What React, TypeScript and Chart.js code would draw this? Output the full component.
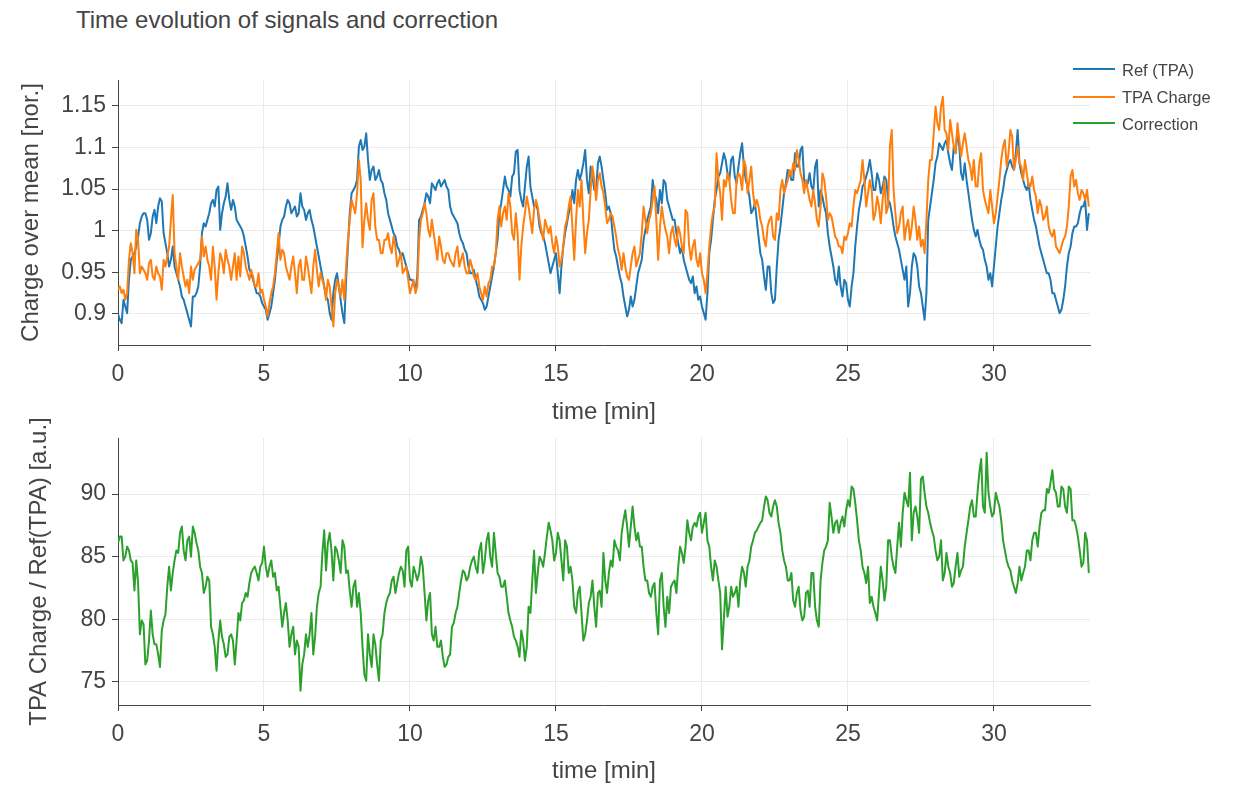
import { useEffect, useRef } from "react";
import { Chart, registerables } from "chart.js";

Chart.register(...registerables);

// sampling grid of the recording (minutes between samples)
const STEP_MIN = 0.0625;
const X_MAX = 33.29;
const X_TICKS = [0, 5, 10, 15, 20, 25, 30];
const TOP_Y_TICKS = [0.9, 0.95, 1, 1.05, 1.1, 1.15];
const BOTTOM_Y_TICKS = [75, 80, 85, 90];

const SERIES_NAMES = ["Ref (TPA)", "TPA Charge", "Correction"];
const SERIES_COLORS = ["#1f77b4", "#ff7f0e", "#2ca02c"];

// Ref (TPA), one row per minute
const REF_TPA = [
  0.900, 0.893, 0.889, 0.917, 0.909, 0.901, 0.941, 0.965, 0.969, 0.973, 0.981, 0.993, 1.009, 1.017, 1.021, 1.021,
  1.013, 0.989, 0.997, 1.017, 1.025, 1.009, 1.029, 1.039, 1.035, 0.997, 0.985, 0.973, 0.957, 0.965, 0.981, 0.957,
  0.949, 0.941, 0.933, 0.921, 0.917, 0.909, 0.901, 0.893, 0.885, 0.921, 0.921, 0.925, 0.933, 0.957, 0.997, 1.009,
  1.005, 1.013, 1.021, 1.033, 1.037, 1.029, 1.049, 1.053, 1.001, 1.021, 1.033, 1.041, 1.057, 1.037, 1.025, 1.037,
  1.029, 1.013, 1.009, 1.005, 1.001, 0.993, 0.981, 0.969, 0.953, 0.949, 0.941, 0.933, 0.925, 0.925, 0.921, 0.913,
  0.909, 0.905, 0.893, 0.901, 0.909, 0.925, 0.941, 0.965, 0.981, 1.005, 1.013, 1.017, 1.029, 1.037, 1.033, 1.021,
  1.025, 1.029, 1.017, 1.021, 1.045, 1.029, 1.025, 1.013, 1.021, 1.025, 1.013, 1.005, 0.993, 0.981, 0.969, 0.957,
  0.945, 0.933, 0.921, 0.917, 0.901, 0.893, 0.925, 0.941, 0.949, 0.933, 0.917, 0.901, 0.889, 0.941, 0.981, 1.021,
  1.045, 1.049, 1.053, 1.061, 1.101, 1.109, 1.097, 1.101, 1.117, 1.085, 1.061, 1.073, 1.077, 1.061, 1.065, 1.073,
  1.061, 1.057, 1.045, 1.037, 1.021, 1.013, 1.005, 0.997, 0.993, 0.981, 0.977, 0.969, 0.973, 0.965, 0.957, 0.949,
  0.941, 0.941, 0.937, 0.929, 0.945, 1.013, 1.017, 1.025, 1.033, 1.045, 1.041, 1.033, 1.057, 1.053, 1.049, 1.057,
  1.061, 1.053, 1.057, 1.061, 1.053, 1.049, 1.029, 1.021, 1.017, 1.013, 1.009, 0.997, 0.989, 0.985, 0.977, 0.973,
  0.957, 0.949, 0.949, 0.953, 0.941, 0.933, 0.921, 0.917, 0.913, 0.905, 0.909, 0.921, 0.933, 0.945, 0.957, 0.973,
  0.989, 1.021, 1.033, 1.049, 1.065, 1.053, 1.049, 1.041, 1.065, 1.069, 1.095, 1.097, 1.049, 1.037, 1.029, 1.053,
  1.077, 1.089, 1.053, 1.041, 1.029, 1.033, 1.025, 1.005, 0.997, 0.993, 0.985, 0.973, 0.961, 0.949, 0.957, 0.965,
  0.973, 0.949, 0.925, 0.957, 0.981, 0.997, 1.009, 1.021, 1.029, 1.049, 1.033, 1.061, 1.073, 1.061, 1.069, 1.081,
  1.097, 1.061, 1.045, 1.077, 1.065, 1.049, 1.049, 1.081, 1.089, 1.077, 1.061, 1.045, 1.025, 1.029, 1.021, 0.997,
  0.977, 0.969, 0.957, 0.945, 0.937, 0.921, 0.909, 0.897, 0.905, 0.921, 0.909, 0.917, 0.933, 0.949, 0.957, 0.965,
  0.989, 1.001, 1.013, 1.021, 1.029, 1.061, 1.045, 1.037, 1.021, 1.049, 1.033, 1.061, 1.057, 1.037, 1.029, 1.021,
  1.013, 1.013, 0.997, 0.985, 0.973, 0.981, 0.965, 0.957, 0.949, 0.941, 0.937, 0.945, 0.925, 0.933, 0.917, 0.921,
  0.909, 0.901, 0.893, 0.925, 0.973, 0.989, 1.013, 1.037, 1.049, 1.065, 1.069, 1.081, 1.093, 1.085, 1.069, 1.061,
  1.085, 1.089, 1.065, 1.057, 1.077, 1.093, 1.105, 1.077, 1.061, 1.053, 1.041, 1.021, 1.025, 1.033, 1.013, 0.993,
  0.973, 0.965, 0.945, 0.929, 0.957, 0.957, 0.925, 0.913, 0.917, 0.957, 0.989, 1.005, 1.025, 1.045, 1.057, 1.073,
  1.069, 1.061, 1.061, 1.093, 1.077, 1.077, 1.097, 1.101, 1.061, 1.053, 1.057, 1.069, 1.053, 1.049, 1.077, 1.085,
  1.029, 1.049, 1.041, 1.029, 1.021, 0.997, 0.981, 0.969, 0.957, 0.941, 0.935, 0.957, 0.933, 0.921, 0.941, 0.937,
  0.917, 0.909, 0.933, 0.949, 0.981, 1.005, 1.025, 1.037, 1.053, 1.057, 1.065, 1.073, 1.085, 1.069, 1.049, 1.049,
  1.069, 1.061, 1.045, 1.053, 1.065, 1.061, 1.037, 1.033, 1.021, 1.005, 0.993, 0.985, 0.977, 0.965, 0.953, 0.941,
  0.957, 0.909, 0.925, 0.957, 0.973, 0.969, 0.957, 0.933, 0.925, 0.909, 0.893, 0.925, 1.013, 1.029, 1.045, 1.061,
  1.081, 1.089, 1.105, 1.101, 1.097, 1.105, 1.109, 1.093, 1.081, 1.073, 1.101, 1.093, 1.121, 1.101, 1.069, 1.061,
  1.081, 1.061, 1.045, 1.029, 1.013, 1.001, 0.993, 1.001, 0.989, 0.981, 0.977, 0.965, 0.957, 0.941, 0.949, 0.933,
  0.957, 0.981, 1.005, 1.021, 1.037, 1.049, 1.065, 1.073, 1.081, 1.085, 1.077, 1.073, 1.093, 1.121, 1.081, 1.069,
  1.061, 1.053, 1.049, 1.057, 1.037, 1.025, 1.013, 1.005, 0.993, 0.981, 0.973, 0.965, 0.957, 0.949, 0.949, 0.941,
  0.925, 0.925, 0.917, 0.909, 0.901, 0.905, 0.917, 0.933, 0.957, 0.973, 0.981, 0.997, 1.005, 1.005, 1.009, 1.021,
  1.029, 1.029, 1.037, 1.001, 1.021,
];

// TPA Charge, one row per minute
const TPA_CHARGE = [
  0.929, 0.933, 0.925, 0.929, 0.917, 0.925, 0.965, 0.985, 0.973, 0.949, 1.001, 0.989, 0.949, 0.957, 0.953, 0.949,
  0.941, 0.961, 0.965, 0.945, 0.941, 0.957, 0.949, 0.945, 0.929, 0.965, 0.957, 0.969, 0.981, 1.013, 1.043, 0.973,
  0.957, 0.941, 0.973, 0.957, 0.945, 0.933, 0.941, 0.925, 0.957, 0.941, 0.953, 0.957, 0.961, 0.965, 0.993, 0.969,
  0.981, 0.965, 0.957, 0.941, 0.981, 0.957, 0.917, 0.949, 0.973, 0.965, 0.949, 0.977, 0.965, 0.957, 0.941, 0.957,
  0.973, 0.941, 0.969, 0.945, 0.981, 0.973, 0.957, 0.949, 0.941, 0.953, 0.945, 0.933, 0.933, 0.949, 0.925, 0.929,
  0.917, 0.909, 0.897, 0.913, 0.925, 0.933, 0.949, 0.973, 0.997, 0.965, 0.977, 0.973, 0.957, 0.949, 0.941, 0.957,
  0.969, 0.949, 0.925, 0.957, 0.965, 0.941, 0.941, 0.969, 0.957, 0.941, 0.925, 0.957, 0.977, 0.953, 0.933, 0.949,
  0.941, 0.933, 0.917, 0.941, 0.933, 0.909, 0.885, 0.925, 0.941, 0.933, 0.921, 0.941, 0.917, 0.957, 0.989, 1.013,
  1.037, 1.029, 1.021, 1.045, 1.085, 1.061, 0.980, 1.013, 1.033, 1.013, 1.001, 1.037, 1.045, 1.005, 0.989, 0.989,
  0.973, 0.973, 0.989, 0.989, 0.997, 0.981, 0.973, 0.993, 0.981, 0.957, 0.965, 0.973, 0.949, 0.953, 0.957, 0.941,
  0.925, 0.933, 0.941, 0.925, 0.933, 0.989, 1.013, 1.021, 1.033, 1.021, 1.001, 0.993, 1.013, 0.997, 0.981, 0.965,
  0.993, 0.981, 0.965, 0.961, 0.973, 0.973, 0.965, 0.961, 0.957, 0.973, 0.981, 0.957, 0.965, 0.973, 0.957, 0.949,
  0.949, 0.965, 0.957, 0.945, 0.941, 0.949, 0.933, 0.925, 0.917, 0.933, 0.921, 0.937, 0.941, 0.957, 0.957, 0.973,
  1.013, 1.029, 1.005, 1.021, 1.029, 1.013, 1.045, 1.029, 0.997, 0.989, 1.021, 0.997, 0.941, 0.981, 1.005, 1.021,
  1.041, 1.029, 1.013, 0.997, 1.025, 1.037, 1.029, 1.013, 1.001, 0.989, 1.013, 1.005, 0.997, 1.005, 0.985, 0.973,
  0.993, 0.981, 0.957, 0.965, 0.981, 1.005, 1.013, 1.029, 1.041, 1.005, 0.965, 1.013, 1.049, 1.029, 1.061, 1.013,
  0.973, 0.997, 1.013, 1.049, 1.077, 1.061, 1.037, 1.061, 1.069, 1.053, 1.045, 1.029, 1.009, 1.013, 1.021, 1.017,
  1.005, 0.993, 0.977, 0.969, 0.953, 0.973, 0.957, 0.945, 0.941, 0.957, 0.973, 0.981, 0.957, 0.965, 0.973, 0.997,
  1.029, 1.013, 0.997, 1.013, 1.021, 1.037, 1.053, 1.013, 0.965, 1.005, 1.029, 1.013, 1.001, 0.993, 0.973, 0.997,
  1.005, 0.989, 0.981, 1.005, 0.997, 0.981, 0.973, 1.025, 1.021, 0.981, 0.965, 0.981, 0.989, 0.965, 0.957, 0.973,
  0.949, 0.941, 0.925, 0.949, 0.981, 1.005, 1.021, 1.029, 1.093, 1.061, 1.045, 1.013, 1.061, 1.053, 1.069, 1.061,
  1.037, 1.021, 1.021, 1.061, 1.069, 1.065, 1.049, 1.085, 1.077, 1.045, 1.061, 1.077, 1.045, 1.029, 1.037, 1.029,
  1.013, 1.005, 0.989, 0.981, 1.005, 1.013, 1.017, 0.993, 0.989, 1.021, 1.013, 1.049, 1.061, 1.045, 1.053, 1.061,
  1.073, 1.065, 1.081, 1.073, 1.097, 1.085, 1.069, 1.061, 1.045, 1.061, 1.049, 1.037, 1.029, 1.049, 1.033, 1.013,
  1.005, 1.029, 1.069, 1.061, 1.041, 1.013, 1.021, 1.017, 1.005, 0.993, 0.989, 0.981, 0.981, 0.973, 0.993, 0.989,
  0.997, 1.009, 1.005, 1.029, 1.049, 1.045, 1.053, 1.061, 1.085, 1.061, 1.029, 1.045, 1.061, 1.049, 1.013, 1.021,
  1.041, 1.029, 1.009, 1.037, 1.061, 1.021, 1.029, 1.101, 1.121, 1.049, 1.021, 0.997, 1.005, 1.021, 1.029, 0.989,
  1.005, 1.013, 0.989, 1.005, 1.029, 1.013, 0.989, 1.005, 0.981, 0.989, 0.973, 1.013, 1.061, 1.085, 1.085, 1.117,
  1.149, 1.129, 1.121, 1.149, 1.161, 1.121, 1.117, 1.097, 1.133, 1.117, 1.101, 1.093, 1.129, 1.109, 1.089, 1.105,
  1.117, 1.101, 1.085, 1.077, 1.061, 1.085, 1.053, 1.053, 1.081, 1.093, 1.049, 1.037, 1.029, 1.021, 1.049, 1.029,
  1.009, 1.021, 1.041, 1.061, 1.085, 1.101, 1.109, 1.077, 1.093, 1.121, 1.113, 1.073, 1.085, 1.101, 1.081, 1.077,
  1.061, 1.085, 1.069, 1.053, 1.053, 1.065, 1.049, 1.041, 1.021, 1.037, 1.029, 1.013, 1.017, 1.029, 1.005, 0.997,
  0.993, 1.001, 0.981, 0.977, 0.973, 0.981, 0.989, 0.993, 1.005, 1.029, 1.065, 1.073, 1.053, 1.061, 1.045, 1.037,
  1.049, 1.045, 1.037, 1.049, 1.029,
];

// Correction = TPA Charge / Ref(TPA), one row per minute
const CORRECTION = [
  86.1, 86.6, 86.6, 84.7, 85.0, 85.8, 85.5, 84.7, 84.5, 82.3, 84.7, 82.9, 78.8, 79.9, 79.6, 76.4,
  76.7, 78.3, 80.7, 78.8, 78.0, 78.0, 77.2, 76.2, 79.1, 79.9, 80.4, 82.6, 84.2, 82.3, 83.7, 84.7,
  85.5, 85.3, 86.9, 87.4, 85.5, 84.7, 86.3, 86.6, 85.0, 87.4, 86.9, 86.1, 85.5, 84.2, 83.7, 82.1,
  82.6, 83.4, 83.1, 79.4, 78.8, 77.8, 75.9, 78.3, 79.9, 78.6, 78.0, 77.0, 77.2, 78.6, 78.8, 78.3,
  76.4, 78.3, 80.5, 79.9, 81.3, 81.5, 82.1, 81.8, 82.9, 83.7, 84.0, 84.2, 83.7, 83.1, 84.2, 84.5,
  85.8, 84.2, 83.4, 84.2, 84.7, 83.4, 83.7, 82.3, 82.6, 81.0, 79.4, 80.5, 81.3, 79.9, 77.8, 78.8,
  79.4, 77.2, 78.3, 77.8, 74.3, 76.4, 77.2, 78.8, 77.8, 78.8, 80.5, 77.2, 78.6, 81.0, 82.1, 82.6,
  85.3, 87.1, 83.9, 86.1, 86.9, 85.5, 83.1, 85.8, 85.5, 84.7, 83.7, 86.3, 85.8, 83.7, 83.9, 82.3,
  81.0, 82.6, 83.1, 81.0, 82.1, 80.5, 77.8, 75.6, 75.1, 78.8, 77.2, 76.2, 78.8, 78.0, 76.4, 75.1,
  78.3, 78.8, 80.5, 81.3, 81.8, 82.1, 83.1, 83.4, 82.1, 82.9, 83.7, 84.2, 83.9, 82.6, 85.5, 85.8,
  83.1, 82.6, 84.2, 83.7, 83.1, 83.7, 85.0, 84.2, 82.1, 79.9, 81.5, 82.1, 78.8, 78.3, 79.4, 77.8,
  77.8, 78.3, 77.0, 76.2, 76.4, 77.0, 77.2, 79.4, 79.7, 80.5, 81.0, 82.1, 83.1, 83.9, 83.7, 83.1,
  83.4, 84.2, 84.7, 85.0, 84.2, 83.7, 85.5, 86.1, 83.7, 84.7, 86.3, 86.9, 85.0, 84.2, 86.9, 85.3,
  83.7, 83.4, 82.6, 82.6, 83.1, 81.8, 80.5, 79.9, 79.4, 78.6, 78.3, 77.8, 77.0, 79.1, 78.3, 76.7,
  77.8, 81.0, 80.5, 83.1, 85.5, 82.1, 83.7, 85.0, 84.7, 84.2, 85.3, 86.6, 87.7, 87.1, 86.3, 84.7,
  85.3, 86.9, 86.3, 84.7, 83.1, 86.3, 85.8, 83.7, 84.2, 83.1, 81.0, 80.5, 82.1, 82.6, 80.5, 78.3,
  78.8, 79.9, 81.3, 81.8, 83.1, 81.0, 79.4, 82.1, 82.3, 81.0, 85.3, 83.1, 82.1, 83.7, 84.7, 84.2,
  86.3, 85.8, 85.5, 84.7, 86.9, 87.9, 88.7, 87.4, 85.8, 87.4, 89.0, 87.4, 86.3, 86.9, 85.8, 85.8,
  84.2, 83.1, 83.1, 82.1, 81.8, 82.6, 82.9, 80.5, 78.8, 83.1, 83.7, 81.0, 79.4, 81.8, 80.5, 82.6,
  82.9, 83.1, 82.1, 84.2, 85.8, 85.3, 84.5, 85.8, 87.9, 86.9, 86.3, 87.4, 87.7, 87.4, 88.2, 88.5,
  86.9, 87.7, 88.5, 86.3, 85.8, 84.2, 83.1, 84.7, 84.2, 83.1, 82.1, 77.6, 80.0, 82.6, 80.2, 81.0,
  82.6, 81.8, 82.1, 82.6, 81.0, 83.1, 84.2, 83.7, 82.6, 84.2, 84.7, 85.8, 86.3, 86.9, 87.1, 87.4,
  87.7, 87.9, 89.0, 89.8, 89.5, 88.5, 88.2, 89.0, 89.5, 89.0, 87.7, 86.9, 85.5, 84.7, 84.2, 83.1,
  83.1, 83.7, 81.5, 81.0, 82.1, 82.6, 80.7, 79.9, 80.2, 82.1, 82.3, 81.0, 83.7, 83.7, 81.0, 79.9,
  79.4, 83.1, 84.5, 85.5, 85.8, 86.3, 89.3, 88.2, 86.9, 87.7, 87.9, 86.9, 87.7, 88.2, 87.4, 88.7,
  89.5, 89.0, 90.6, 90.4, 89.3, 87.9, 86.3, 85.5, 84.2, 83.7, 82.9, 84.2, 81.3, 81.8, 81.0, 80.5,
  79.9, 82.1, 84.2, 83.1, 81.5, 82.6, 86.3, 86.3, 85.0, 84.2, 83.7, 85.8, 87.7, 85.8, 88.5, 90.1,
  89.5, 89.0, 91.7, 86.3, 88.5, 89.0, 88.2, 86.9, 91.2, 91.4, 90.1, 89.0, 88.5, 87.7, 87.1, 86.6,
  85.5, 84.7, 85.0, 86.3, 83.1, 83.7, 85.3, 84.2, 83.7, 82.6, 82.9, 84.2, 85.3, 83.4, 83.9, 84.2,
  85.8, 86.9, 87.9, 89.0, 89.5, 88.2, 88.2, 90.1, 91.7, 92.8, 89.0, 88.5, 93.3, 90.1, 89.0, 88.2,
  88.5, 90.1, 89.5, 89.0, 87.9, 86.3, 85.5, 84.7, 84.2, 83.9, 83.1, 82.6, 82.1, 82.9, 84.2, 83.1,
  83.7, 84.2, 85.5, 85.5, 84.7, 86.3, 86.9, 86.9, 85.8, 87.4, 88.5, 88.7, 88.7, 90.4, 90.1, 90.9,
  91.9, 90.4, 90.1, 89.0, 89.0, 90.6, 90.4, 89.0, 88.5, 90.6, 90.4, 87.9, 87.9, 87.4, 86.6, 85.5,
  84.2, 84.5, 86.9, 86.3, 83.7,
];

const FONT = "'Liberation Sans', Arial, Helvetica, sans-serif";
const TEXT_COLOR = "#444";
const GRID_COLOR = "#ebebeb";
const AXIS_COLOR = "#444";

function toPoints(values: number[]) {
  return values.map((y, i) => ({ x: i * STEP_MIN, y }));
}

function xAxis(height: number, titlePadBottom: number) {
  return {
    type: "linear",
    min: 0,
    max: X_MAX,
    afterBuildTicks: (s: any) => {
      s.ticks = X_TICKS.map((v) => ({ value: v }));
    },
    afterFit: (s: any) => {
      s.height = height;
    },
    grid: { color: GRID_COLOR, lineWidth: 1, tickColor: AXIS_COLOR, tickLength: 6, drawTicks: true },
    border: { color: AXIS_COLOR, width: 1 },
    ticks: {
      color: TEXT_COLOR,
      font: { family: FONT, size: 23 },
      padding: 10,
      maxRotation: 0,
      autoSkip: false,
      callback: (v: any) => String(v),
    },
    title: {
      display: true,
      text: "time [min]",
      color: TEXT_COLOR,
      font: { family: FONT, size: 24 },
      padding: { top: 0, bottom: titlePadBottom },
    },
  };
}

function yAxis(min: number, max: number, ticks: number[], title: string, titlePadTop: number) {
  return {
    type: "linear",
    min,
    max,
    afterBuildTicks: (s: any) => {
      s.ticks = ticks.map((v) => ({ value: v }));
    },
    afterFit: (s: any) => {
      s.width = 118;
    },
    grid: { color: GRID_COLOR, lineWidth: 1, tickColor: AXIS_COLOR, tickLength: 6, drawTicks: true },
    border: { color: AXIS_COLOR, width: 1 },
    ticks: {
      color: TEXT_COLOR,
      font: { family: FONT, size: 23 },
      padding: 6,
      autoSkip: false,
      callback: (v: any) => String(v),
    },
    title: {
      display: true,
      text: title,
      color: TEXT_COLOR,
      font: { family: FONT, size: 24 },
      padding: { top: titlePadTop, bottom: 0 },
    },
  };
}

function lineDataset(label: string, values: number[], color: string, order: number) {
  return {
    label,
    data: toPoints(values),
    borderColor: color,
    backgroundColor: color,
    borderWidth: 2,
    pointRadius: 0,
    tension: 0,
    fill: false,
    borderJoinStyle: "round",
    order,
  };
}

export default function App() {
  const topRef = useRef<HTMLCanvasElement | null>(null);
  const bottomRef = useRef<HTMLCanvasElement | null>(null);

  useEffect(() => {
    if (!topRef.current || !bottomRef.current) return;
    const top = new Chart(topRef.current, {
      type: "line",
      data: {
        datasets: [
          lineDataset(SERIES_NAMES[0], REF_TPA, SERIES_COLORS[0], 2),
          lineDataset(SERIES_NAMES[1], TPA_CHARGE, SERIES_COLORS[1], 1),
        ] as any,
      },
      options: {
        animation: false,
        responsive: false,
        events: [],
        layout: { padding: { top: 80, right: 147, left: 0, bottom: 0 } },
        plugins: { legend: { display: false }, tooltip: { enabled: false }, title: { display: false } },
        scales: {
          x: xAxis(85, 3.6),
          y: yAxis(0.8627, 1.181, TOP_Y_TICKS, "Charge over mean [nor.]", 16.6),
        } as any,
      },
    });
    const bottom = new Chart(bottomRef.current, {
      type: "line",
      data: {
        datasets: [lineDataset(SERIES_NAMES[2], CORRECTION, SERIES_COLORS[2], 1)] as any,
      },
      options: {
        animation: false,
        responsive: false,
        events: [],
        layout: { padding: { top: 38, right: 147, left: 0, bottom: 0 } },
        plugins: { legend: { display: false }, tooltip: { enabled: false }, title: { display: false } },
        scales: {
          x: xAxis(81, 0),
          y: yAxis(73.16, 94.47, BOTTOM_Y_TICKS, "TPA Charge / Ref(TPA) [a.u.]", 24.6),
        } as any,
      },
    });
    return () => {
      top.destroy();
      bottom.destroy();
    };
  }, []);

  const legendRows = [69.3, 96.7, 123.3];

  return (
    <div
      style={{
        position: "absolute",
        left: 0,
        top: 0,
        width: 1237,
        height: 786,
        background: "#fff",
        overflow: "hidden",
        fontFamily: FONT,
      }}
    >
      <div
        style={{
          position: "absolute",
          left: 76,
          top: 8,
          fontSize: 24,
          lineHeight: "24px",
          color: TEXT_COLOR,
          whiteSpace: "nowrap",
        }}
      >
        Time evolution of signals and correction
      </div>
      <canvas
        ref={bottomRef}
        width={1237}
        height={386}
        style={{ position: "absolute", left: 0, top: 400, width: 1237, height: 386 }}
      />
      <canvas
        ref={topRef}
        width={1237}
        height={430}
        style={{ position: "absolute", left: 0, top: 0, width: 1237, height: 430 }}
      />
      {SERIES_NAMES.map((name, i) => (
        <div key={name}>
          <div
            style={{
              position: "absolute",
              left: 1073,
              top: legendRows[i] - 1,
              width: 42,
              height: 2,
              background: SERIES_COLORS[i],
            }}
          />
          <div
            style={{
              position: "absolute",
              left: 1122,
              top: legendRows[i] - 7.8,
              fontSize: 16.5,
              lineHeight: "16.5px",
              color: TEXT_COLOR,
              whiteSpace: "nowrap",
            }}
          >
            {name}
          </div>
        </div>
      ))}
    </div>
  );
}
